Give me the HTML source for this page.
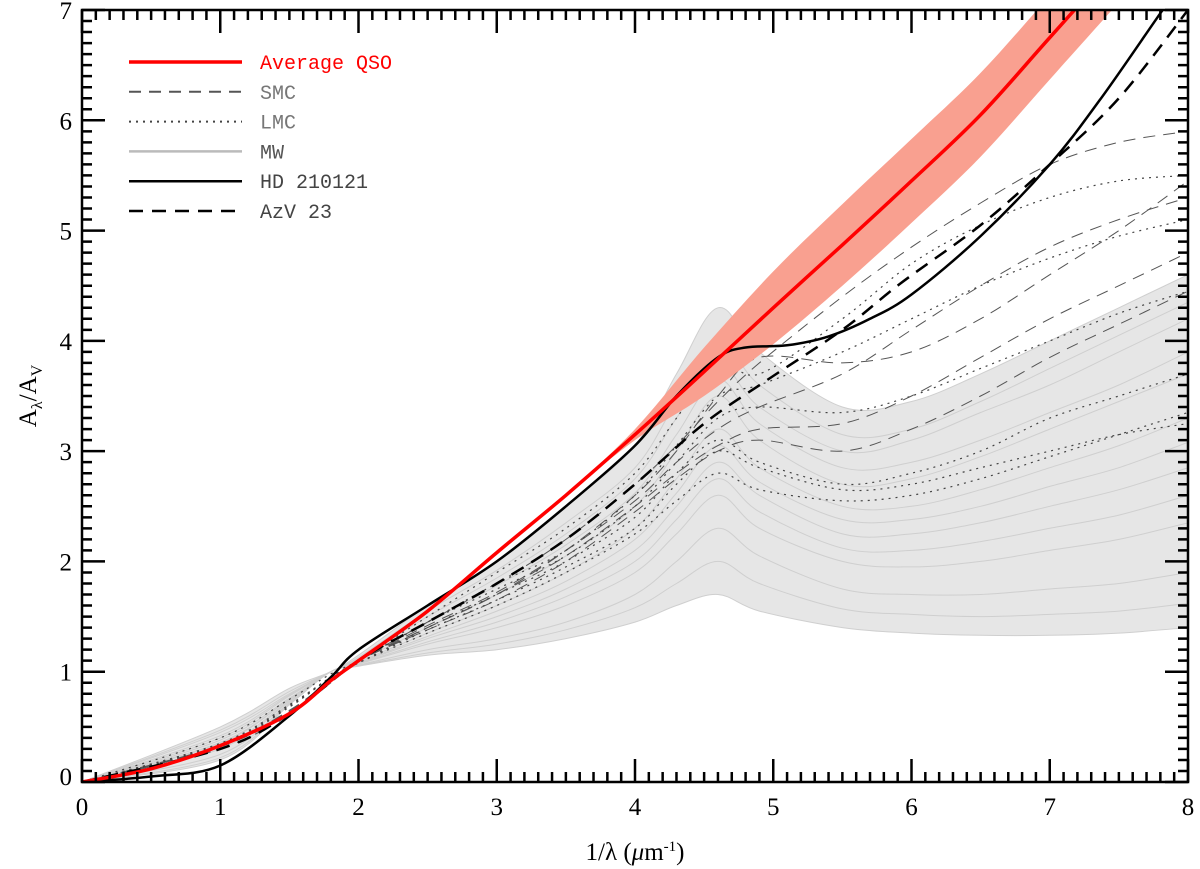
<!DOCTYPE html>
<html><head><meta charset="utf-8"><style>
html,body{margin:0;padding:0;background:#fff;}
svg{display:block;}
text{font-family:"Liberation Serif",serif;}
.leg{font-family:"Liberation Mono",monospace;font-size:20px;}
</style></head><body>
<svg id="chart" width="1200" height="869" viewBox="0 0 1200 869">
<defs><clipPath id="clip"><rect x="82" y="10" width="1106" height="772"/></clipPath></defs>
<g id="plot" clip-path="url(#clip)"></g>
<g id="axes"></g>
<g id="legend"></g>
</svg>
<script>
const xs = [0,1,1.5,1.8,2,2.5,3,3.5,4,4.3,4.6,4.9,5.5,6,6.5,7,7.5,8];
const mwCurves = [
 [0,0.5,0.85,1.0,1.15,1.6,2.0,2.5,3.05,3.7,4.3,3.9,3.4,3.45,3.7,4.0,4.3,4.6],
 [0,0.47,0.82,1.0,1.13,1.55,1.92,2.35,2.85,3.45,4.0,3.6,3.15,3.2,3.45,3.75,4.05,4.35],
 [0,0.45,0.8,1.0,1.12,1.5,1.85,2.25,2.75,3.3,3.8,3.4,3.0,3.1,3.35,3.6,3.9,4.2],
 [0,0.42,0.79,1.0,1.11,1.45,1.78,2.15,2.62,3.15,3.65,3.25,2.85,2.9,3.1,3.35,3.6,3.9],
 [0,0.4,0.78,1.0,1.1,1.4,1.7,2.05,2.5,3.0,3.5,3.1,2.7,2.75,2.95,3.2,3.45,3.7],
 [0,0.38,0.76,1.0,1.09,1.35,1.6,1.9,2.3,2.75,3.2,2.85,2.5,2.5,2.65,2.85,3.05,3.3],
 [0,0.36,0.75,1.0,1.085,1.32,1.55,1.82,2.2,2.62,3.05,2.72,2.38,2.38,2.5,2.68,2.85,3.08],
 [0,0.35,0.75,1.0,1.08,1.3,1.5,1.75,2.1,2.5,2.9,2.6,2.25,2.25,2.35,2.5,2.65,2.85],
 [0,0.32,0.74,1.0,1.075,1.27,1.45,1.68,2.0,2.38,2.75,2.45,2.12,2.1,2.18,2.3,2.42,2.6],
 [0,0.3,0.73,1.0,1.07,1.25,1.4,1.6,1.9,2.25,2.6,2.3,2.0,1.95,2.0,2.1,2.2,2.35],
 [0,0.25,0.72,1.0,1.06,1.2,1.3,1.45,1.7,2.0,2.3,2.05,1.75,1.7,1.7,1.75,1.8,1.9],
 [0,0.22,0.71,1.0,1.055,1.17,1.25,1.38,1.58,1.8,2.0,1.8,1.57,1.52,1.5,1.52,1.55,1.62],
 [0,0.2,0.7,1.0,1.05,1.15,1.2,1.3,1.45,1.6,1.7,1.55,1.4,1.35,1.33,1.33,1.35,1.4]
];
const smcCurves = [
 [0,0.3,0.62,0.9,1.1,1.45,1.8,2.2,2.7,3.05,3.45,3.8,4.4,4.85,5.25,5.6,5.8,5.9],
 [0,0.32,0.63,0.92,1.1,1.4,1.7,2.1,2.6,3.0,3.5,3.85,3.8,3.9,4.2,4.6,5.0,5.45],
 [0,0.33,0.65,0.93,1.1,1.4,1.7,2.05,2.5,2.8,3.05,3.2,3.25,3.5,3.85,4.2,4.5,4.8],
 [0,0.32,0.64,0.92,1.1,1.38,1.65,2.0,2.45,2.75,3.0,3.1,3.0,3.2,3.5,3.85,4.15,4.45],
 [0,0.32,0.64,0.92,1.1,1.42,1.72,2.1,2.55,2.9,3.2,3.4,3.7,4.1,4.5,4.85,5.1,5.3]
];
const lmcCurves = [
 [0,0.35,0.7,0.95,1.1,1.5,1.9,2.3,2.8,3.3,3.8,3.7,4.2,4.7,5.05,5.3,5.45,5.5],
 [0,0.4,0.75,0.98,1.1,1.45,1.8,2.1,2.6,3.05,3.5,3.6,3.9,4.2,4.5,4.75,4.95,5.1],
 [0,0.35,0.7,0.95,1.1,1.45,1.75,2.05,2.5,2.9,3.3,3.4,3.35,3.5,3.75,4.0,4.25,4.45],
 [0,0.33,0.68,0.95,1.08,1.4,1.7,2.0,2.4,2.8,3.1,2.9,2.7,2.8,3.0,3.3,3.5,3.7],
 [0,0.33,0.68,0.95,1.08,1.35,1.6,1.9,2.25,2.55,2.8,2.65,2.55,2.6,2.75,2.95,3.15,3.35],
 [0,0.34,0.69,0.95,1.08,1.38,1.65,1.95,2.3,2.7,3.0,2.85,2.65,2.7,2.85,3.0,3.15,3.25]
];
const qsoX = [0,0.5,1,1.5,1.8,2,2.5,3,3.5,4,4.5,5,5.5,6,6.5,7,7.5];
const qsoY = [0,0.12,0.33,0.62,0.92,1.1,1.55,2.08,2.6,3.15,3.72,4.3,4.87,5.45,6.05,6.75,7.45];
const qsoErr = [0,0,0,0,0,0,0,0,0,0.05,0.22,0.33,0.37,0.38,0.38,0.38,0.38];
const hdX = [0,0.5,1,1.5,1.8,2,2.5,3,3.5,4,4.3,4.6,4.8,5.1,5.4,5.7,6,6.5,7,7.36,7.8,8.1];
const hdY = [0,0.05,0.15,0.6,0.95,1.2,1.6,2.0,2.5,3.05,3.5,3.85,3.94,3.96,4.04,4.2,4.42,4.95,5.6,6.18,6.97,7.5];
const azX = [0,1,1.5,2,2.5,3,3.5,4,4.5,4.95,5.5,5.92,6.5,7,7.5,8];
const azY = [0,0.3,0.62,1.1,1.45,1.8,2.2,2.7,3.25,3.64,4.1,4.52,5.05,5.6,6.2,7.0];
const xTicks = [0,1,2,3,4,5,6,7,8];
const yTicks = [0,1,2,3,4,5,6,7];

const X0=82,X1=1188,Y0=782,Y1=10;
const sx=v=>X0+(v-0)/(8-0)*(X1-X0);
const sy=v=>Y0-(v-0)/(7-0)*(Y0-Y1);
const NS="http://www.w3.org/2000/svg";
function pathD(px,py){
  const p=px.map((x,i)=>[sx(x),sy(py[i])]);
  let d="M"+p[0][0].toFixed(1)+","+p[0][1].toFixed(1);
  for(let i=0;i<p.length-1;i++){
    const a=p[i-1]||p[i],b=p[i],c=p[i+1],e=p[i+2]||c;
    const c1=[b[0]+(c[0]-a[0])/6,b[1]+(c[1]-a[1])/6],c2=[c[0]-(e[0]-b[0])/6,c[1]-(e[1]-b[1])/6];
    d+=" C"+c1.map(v=>v.toFixed(1))+" "+c2.map(v=>v.toFixed(1))+" "+c.map(v=>v.toFixed(1));
  }
  return d;
}
function mk(parent,tag,attrs){const e=document.createElementNS(NS,tag);for(const k in attrs)e.setAttribute(k,attrs[k]);parent.appendChild(e);return e;}
const plot=document.getElementById('plot');
const mwTop=mwCurves[0],mwBot=mwCurves[mwCurves.length-1];
const env=mk(plot,'path',{d:pathD(xs,mwTop)+" L"+pathD(xs.slice().reverse(),mwBot.slice().reverse()).slice(1)+" Z",fill:"#e6e6e6",stroke:"none"});


mwCurves.forEach((c,i)=>{
  const e=mk(plot,'path',{d:pathD(xs,c),fill:"none",stroke:"#cfcfcf","stroke-width":1});
  
  
});
smcCurves.forEach(c=>{
  const e=mk(plot,'path',{d:pathD(xs,c),fill:"none",stroke:"#555","stroke-width":1,"stroke-dasharray":"12,8"});
  
  
});
lmcCurves.forEach(c=>{
  const e=mk(plot,'path',{d:pathD(xs,c),fill:"none",stroke:"#444","stroke-width":1.2,"stroke-dasharray":"2,5"});
  
  
});
const bi=qsoErr.findIndex(v=>v>0)-1;
const bx=qsoX.slice(bi),bu=qsoY.slice(bi).map((v,i)=>v+qsoErr[bi+i]),bl=qsoY.slice(bi).map((v,i)=>v-qsoErr[bi+i]);
const band=mk(plot,'path',{d:pathD(bx,bu)+" L"+pathD(bx.slice().reverse(),bl.slice().reverse()).slice(1)+" Z",fill:"#f9a090",stroke:"none"});


const az=mk(plot,'path',{d:pathD(azX,azY),fill:"none",stroke:"#000","stroke-width":2.5,"stroke-dasharray":"14,9"});


const hd=mk(plot,'path',{d:pathD(hdX,hdY),fill:"none",stroke:"#000","stroke-width":2.5});


const q=mk(plot,'path',{d:pathD(qsoX,qsoY),fill:"none",stroke:"#f00","stroke-width":3.5});


const ax=document.getElementById('axes');
const fr=mk(ax,'rect',{x:X0,y:Y1,width:X1-X0,height:Y0-Y1,fill:"none",stroke:"#000","stroke-width":2.5});


let td="";
for(let i=0;i<=80;i++){const x=sx(i/10),L=i%10===0?23:10;td+=`M${x},${Y0}v${-L}M${x},${Y1}v${L}`;}
for(let i=0;i<=70;i++){const y=sy(i/10),L=i%10===0?23:10;td+=`M${X0},${y}h${L}M${X1},${y}h${-L}`;}
const tk=mk(ax,'path',{d:td,stroke:"#000","stroke-width":2.5,fill:"none"});


xTicks.forEach(v=>{const t=mk(ax,'text',{x:sx(v),y:815,"text-anchor":"middle","font-size":25});t.textContent=v;
  
  });
yTicks.forEach(v=>{const t=mk(ax,'text',{x:72,y:sy(v)+9-(v===0?6:0),"text-anchor":"end","font-size":25});t.textContent=v;
  
  });
const xt=mk(ax,'text',{x:635,y:860,"text-anchor":"middle","font-size":25});xt.innerHTML='1/λ (<tspan font-style="italic">μ</tspan>m<tspan dy="-9" font-size="15">-1</tspan><tspan dy="9">)</tspan>';


const yt=mk(ax,'text',{transform:"translate(36,396) rotate(-90)","text-anchor":"middle","font-size":25});yt.innerHTML='A<tspan dy="6" font-size="16">λ</tspan><tspan dy="-6">/A</tspan><tspan dy="6" font-size="16">V</tspan>';


const lg=document.getElementById('legend');
const legLabels=["Average QSO","SMC","LMC","MW","HD 210121","AzV 23"];
const legColors=["#f00","#555","#444","#bbb","#000","#000"];
const legText=["#f00","#777","#777","#555","#444","#444"];
const legDash=["","12,8","2,5","","","14,9"];
const legW=[3.5,2,2,2.5,2.5,2.5];
legLabels.forEach((s,i)=>{
  const y=62+i*29.8;
  const l=mk(lg,'line',{x1:129,x2:242,y1:y,y2:y,stroke:legColors[i],"stroke-width":legW[i],"stroke-dasharray":legDash[i]});
  
  
  const t=mk(lg,'text',{x:260,y:y+7,fill:legText[i],class:"leg"});t.textContent=s;
  
  
});
</script>
</body></html>
